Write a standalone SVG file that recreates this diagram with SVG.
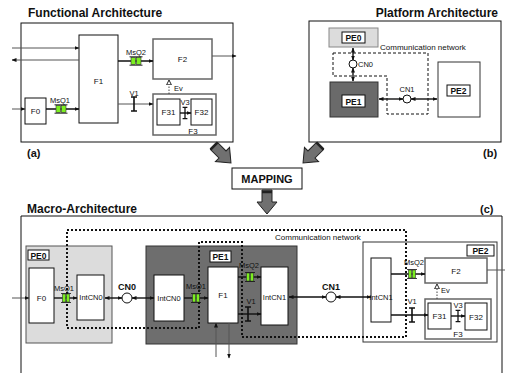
<svg xmlns="http://www.w3.org/2000/svg" width="505" height="373" viewBox="0 0 505 373">
<style>
text{font-family:"Liberation Sans",Arial,sans-serif;fill:#111}
.t{font-size:12px;font-weight:bold}
.p{font-size:11px;font-weight:bold}
.l{font-size:8px}
.s{font-size:7.5px}
.b{fill:#fff;stroke:#111;stroke-width:1}
.g{fill:#fff;stroke:#666;stroke-width:1.5}
.lb{fill:#fff;stroke:#111;stroke-width:1}
.lt{font-size:8.5px;font-weight:bold}
.c{fill:none;stroke:#555;stroke-width:1}
.k{fill:none;stroke:#111;stroke-width:1.4}
.ev{fill:none;stroke:#444;stroke-width:1;stroke-dasharray:1.5 1.5}
.ba{fill:#707070;stroke:#222;stroke-width:1}
</style>
<defs>
<marker id="ah" viewBox="0 0 10 10" refX="9" refY="5" markerWidth="5" markerHeight="5" markerUnits="userSpaceOnUse" orient="auto-start-reverse"><path d="M0,1 L10,5 L0,9 z" fill="#111"/></marker>
<marker id="ho" viewBox="0 0 10 10" refX="9" refY="5" markerWidth="6" markerHeight="6" markerUnits="userSpaceOnUse" orient="auto"><path d="M1,1 L9,5 L1,9 z" fill="#fff" stroke="#111" stroke-width="1.5"/></marker>
<g id="msq"><rect x="-5" y="-3.5" width="4.6" height="7" fill="#7cf020" stroke="#333" stroke-width="0.6"/><rect x="0.4" y="-3.5" width="4.6" height="7" fill="#7cf020" stroke="#333" stroke-width="0.6"/><path d="M-6.5,-4.2 H6.5 M-6.5,4.2 H6.5" stroke="#111" stroke-width="0.9"/></g>
<g id="msqs"><rect x="-3.5" y="-4" width="3.2" height="8" fill="#7cf020" stroke="#333" stroke-width="0.6"/><rect x="0.3" y="-4" width="3.2" height="8" fill="#7cf020" stroke="#333" stroke-width="0.6"/><path d="M-5,-4.5 H5 M-5,4.5 H5" stroke="#111" stroke-width="0.8"/></g>
<g id="valve"><path d="M0,-7 V7 M-3,-7 H3 M-3,7 H3" stroke="#111" stroke-width="1.6" fill="none"/></g>
<polygon id="barrow" points="-5,0 5,0 5,12 10,12 0,24 -10,12 -5,12"/>
</defs>

<!-- Functional Architecture -->
<g id="functional-frame">
<text class="t" x="28" y="17">Functional Architecture</text>
<rect x="21" y="23" width="212" height="119" fill="#fff" stroke="#111"/>
<text class="p" x="27" y="157">(a)</text>
</g>
<g id="fa-F1"><rect class="b" x="79" y="35" width="39" height="88"/><text class="l" x="98.5" y="84" text-anchor="middle">F1</text></g>
<g id="fa-F2"><rect class="g" x="153" y="39" width="59" height="40"/><text class="l" x="182.5" y="62" text-anchor="middle">F2</text></g>
<g id="fa-F0"><rect class="b" x="25" y="98" width="21" height="26"/><text class="l" x="35.5" y="114" text-anchor="middle">F0</text></g>
<g id="fa-F3"><rect class="g" x="153" y="94" width="63" height="41"/><text class="l" x="193" y="134" text-anchor="middle">F3</text>
<rect class="b" x="157" y="99" width="23" height="26" stroke="#444"/><text class="l" x="168.5" y="115" text-anchor="middle">F31</text>
<rect class="b" x="191" y="99" width="21" height="26" stroke="#444"/><text class="l" x="201.5" y="115" text-anchor="middle">F32</text></g>

<!-- Platform Architecture -->
<g id="platform-frame">
<text class="t" x="498" y="17" text-anchor="end">Platform Architecture</text>
<rect x="309" y="21" width="192" height="121" fill="#fff" stroke="#111"/>
<text class="p" x="483" y="157">(b)</text>
<path d="M333,53 H428 V114 H387 V76 H333 Z" fill="none" stroke="#111" stroke-width="1" stroke-dasharray="3 2"/>
<text class="l" x="380" y="50">Communication network</text>
</g>
<g id="pa-PE0"><rect x="329" y="28" width="49" height="19" fill="#dcdcdc" stroke="#888"/><rect class="lb" x="342" y="32" width="23" height="11"/><text class="lt" x="353.5" y="41" text-anchor="middle">PE0</text></g>
<g id="pa-PE1"><rect x="330" y="82" width="48" height="35" fill="#6a6a6a" stroke="#333"/><rect class="lb" x="342" y="95" width="23" height="12"/><text class="lt" x="353.5" y="104.5" text-anchor="middle">PE1</text></g>
<g id="pa-PE2"><rect x="438" y="62" width="42" height="55" fill="#fff" stroke="#333"/><rect class="lb" x="447" y="85" width="23" height="11"/><text class="lt" x="458.5" y="94" text-anchor="middle">PE2</text></g>
<g id="pa-CN0"><circle cx="353" cy="64" r="4" fill="#fff" stroke="#111"/><text class="s" x="358" y="67" font-size="7">CN0</text></g>
<g id="pa-CN1"><circle cx="407" cy="99" r="4" fill="#fff" stroke="#111"/><text class="s" x="407" y="92" text-anchor="middle">CN1</text></g>

<!-- Mapping -->
<g id="mapping"><rect x="232" y="168" width="70" height="21" fill="#fff" stroke="#111"/><text class="p" x="267" y="182.5" text-anchor="middle">MAPPING</text></g>
<g id="block-arrows">
<use href="#barrow" class="ba" transform="translate(214,146) rotate(-45)"/>
<use href="#barrow" class="ba" transform="translate(320,146) rotate(45)"/>
<use href="#barrow" class="ba" transform="translate(267,190)"/>
<path d="M210.5,149.5 L217.5,142.5 M323.5,149.5 L316.5,142.5 M262,192 H272" stroke="#222" stroke-width="2.5"/>
</g>

<!-- Macro-Architecture -->
<g id="macro-frame">
<text class="t" x="27" y="213">Macro-Architecture</text>
<text class="p" x="480" y="213">(c)</text>
<path d="M21,373 V216 H502 V373" fill="none" stroke="#111"/>
</g>
<g id="ma-PE0"><rect x="26" y="246" width="86" height="97" fill="#dcdcdc" stroke="#555"/><rect class="lb" x="28" y="250" width="21" height="10"/><text class="lt" x="38.5" y="258.5" text-anchor="middle">PE0</text></g>
<g id="ma-PE1"><rect x="146" y="246" width="151" height="98" fill="#6e6e6e" stroke="#333"/><rect class="lb" x="210" y="251" width="21" height="11"/><text class="lt" x="220.5" y="260" text-anchor="middle">PE1</text></g>
<g id="ma-PE2"><rect x="363" y="242" width="134" height="100" fill="#fff" stroke="#333"/><rect class="lb" x="467" y="245" width="27" height="11"/><text class="lt" x="480.5" y="254" text-anchor="middle">PE2</text></g>
<g id="comm-network">
<path d="M67,230 H406 V337 H242 V242 H199 V328 H67 Z" fill="none" stroke="#111" stroke-width="2" stroke-dasharray="2 2"/>
<text class="l" x="275" y="240" font-size="8.5">Communication network</text>
</g>
<g id="ma-F0"><rect class="b" x="29" y="268" width="25" height="55"/><text class="l" x="41.5" y="301" text-anchor="middle">F0</text></g>
<g id="ma-IntCN0a"><rect class="b" x="77" y="275" width="27" height="45"/><text class="s" x="91" y="300" text-anchor="middle">IntCN0</text></g>
<g id="ma-IntCN0b"><rect class="b" x="154" y="275" width="30" height="46"/><text class="s" x="169" y="301" text-anchor="middle">IntCN0</text></g>
<g id="ma-F1"><rect class="b" x="208" y="267" width="30" height="56"/><text class="l" x="223" y="298" text-anchor="middle">F1</text></g>
<g id="ma-IntCN1a"><rect class="b" x="261" y="267" width="27" height="58"/><text class="s" x="274.5" y="300" text-anchor="middle">IntCN1</text></g>
<g id="ma-IntCN1b"><rect class="b" x="371" y="258" width="20" height="64"/><text class="s" x="381" y="300" text-anchor="middle">IntCN1</text></g>
<g id="ma-F2"><rect class="g" x="425" y="258" width="62" height="25"/><text class="l" x="456" y="274" text-anchor="middle">F2</text></g>
<g id="ma-F3"><rect class="g" x="425" y="299" width="66" height="40"/><text class="l" x="458" y="337" text-anchor="middle">F3</text>
<rect class="b" x="428" y="303" width="23" height="26" stroke="#444"/><text class="l" x="439.5" y="319" text-anchor="middle">F31</text>
<rect class="b" x="465" y="303" width="22" height="27" stroke="#444"/><text class="l" x="476" y="320" text-anchor="middle">F32</text></g>
<g id="ma-CN0"><circle cx="127" cy="298" r="5" fill="#fff" stroke="#111"/><text x="127" y="290" font-size="9" font-weight="bold" text-anchor="middle">CN0</text></g>
<g id="ma-CN1"><circle cx="331" cy="297" r="5" fill="#fff" stroke="#111"/><text x="331" y="290" font-size="9" font-weight="bold" text-anchor="middle">CN1</text></g>

<!-- Connectors -->
<g id="connectors">
<line class="c" x1="12" y1="48" x2="79" y2="48" marker-end="url(#ah)"/>
<line class="c" x1="79" y1="60" x2="12" y2="60" marker-end="url(#ah)"/>
<line class="c" x1="12" y1="109" x2="25" y2="109" marker-end="url(#ah)"/>
<line class="k" x1="46" y1="109" x2="79" y2="109" marker-end="url(#ah)"/>
<line class="k" x1="118" y1="61" x2="153" y2="61" marker-end="url(#ah)"/>
<line class="c" x1="212" y1="56" x2="236" y2="56" marker-end="url(#ah)"/>
<line class="c" x1="118" y1="104" x2="153" y2="104" marker-end="url(#ah)"/>
<line class="k" x1="180" y1="113" x2="191" y2="113" marker-end="url(#ah)"/>
<line class="ev" x1="169" y1="94" x2="169" y2="80" marker-end="url(#ho)"/>
<line class="k" x1="353" y1="48" x2="353" y2="60" marker-start="url(#ah)" marker-end="url(#ah)"/>
<line class="k" x1="353" y1="68" x2="353" y2="81" marker-start="url(#ah)" marker-end="url(#ah)"/>
<line class="k" x1="379" y1="99" x2="403" y2="99" marker-start="url(#ah)" marker-end="url(#ah)"/>
<line class="k" x1="411" y1="99" x2="437" y2="99" marker-start="url(#ah)" marker-end="url(#ah)"/>
<line class="c" x1="12" y1="298" x2="29" y2="298" marker-end="url(#ah)"/>
<line class="k" x1="54" y1="298" x2="77" y2="298" marker-end="url(#ah)"/>
<line class="k" x1="105" y1="298" x2="122" y2="298" marker-start="url(#ah)" marker-end="url(#ah)"/>
<line class="k" x1="132" y1="298" x2="154" y2="298" marker-start="url(#ah)" marker-end="url(#ah)"/>
<line class="k" x1="184" y1="298" x2="208" y2="298" marker-end="url(#ah)"/>
<line class="k" x1="238" y1="277" x2="261" y2="277" marker-end="url(#ah)"/>
<line class="k" x1="238" y1="314" x2="261" y2="314" marker-end="url(#ah)"/>
<line class="c" x1="216" y1="357" x2="216" y2="323" marker-end="url(#ah)" stroke="#bbb" stroke-width="1.4"/>
<line class="c" x1="229" y1="323" x2="229" y2="358" marker-end="url(#ah)" stroke="#999" stroke-width="1.4"/>
<line class="k" x1="289" y1="297" x2="326" y2="297" marker-start="url(#ah)" marker-end="url(#ah)"/>
<line class="k" x1="336" y1="297" x2="371" y2="297" marker-start="url(#ah)" marker-end="url(#ah)"/>
<line class="k" x1="391" y1="274" x2="425" y2="274" marker-end="url(#ah)"/>
<line class="c" x1="487" y1="270" x2="505" y2="270"/>
<line class="k" x1="391" y1="315" x2="428" y2="315" marker-end="url(#ah)"/>
<line class="k" x1="451" y1="316" x2="465" y2="316" marker-end="url(#ah)"/>
<line class="ev" x1="437" y1="299" x2="437" y2="284" marker-end="url(#ho)"/>
</g>

<g id="channels">
<use href="#msq" x="136" y="61"/><text class="s" x="136" y="55" text-anchor="middle">MsQ2</text>
<use href="#msq" x="61" y="109"/><text class="s" x="60" y="103" text-anchor="middle">MsQ1</text>
<use href="#valve" x="134" y="104"/><text class="s" x="134" y="96" text-anchor="middle">V1</text>
<use href="#valve" transform="translate(185,113) scale(0.8)"/><text class="s" x="185" y="105" text-anchor="middle">V3</text>
<text class="s" x="174" y="91">Ev</text>
<use href="#msqs" x="66" y="298"/><text class="s" x="64" y="291" text-anchor="middle">MsQ1</text>
<use href="#msqs" x="196" y="298"/><text class="s" x="196" y="289" text-anchor="middle">MsQ1</text>
<use href="#msqs" x="250" y="277"/><text class="s" x="249" y="268" text-anchor="middle">MsQ2</text>
<use href="#valve" x="248" y="314"/><text class="s" x="251" y="304" text-anchor="middle">V1</text>
<use href="#msqs" x="412" y="274"/><text class="s" x="414" y="265" text-anchor="middle">MsQ2</text>
<use href="#valve" x="412" y="315"/><text class="s" x="412" y="304" text-anchor="middle">V1</text>
<use href="#valve" transform="translate(458,316) scale(0.8)"/><text class="s" x="458" y="308" text-anchor="middle">V3</text>
<text class="s" x="441" y="293">Ev</text>
</g>
</svg>
